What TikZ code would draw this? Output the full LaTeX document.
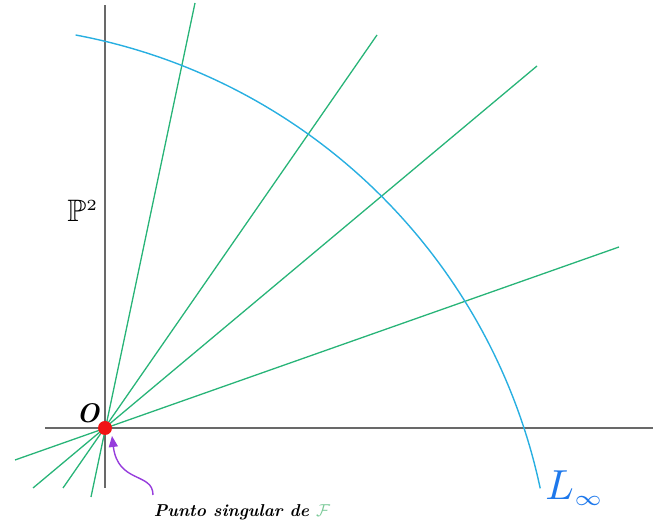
\documentclass[tikz,border=0pt]{standalone}
\usepackage{amssymb}
\usepackage{graphicx}
\usetikzlibrary{arrows.meta}
\definecolor{axisgray}{RGB}{105,105,105}
\definecolor{lgreen}{RGB}{40,180,120}
\definecolor{arccol}{RGB}{40,175,225}
\definecolor{lblue}{RGB}{30,120,235}
\definecolor{arrpurple}{RGB}{150,60,220}
\definecolor{dotred}{RGB}{240,20,20}
\definecolor{fgreen}{RGB}{120,200,150}
\tikzset{
  axisline/.style={draw=axisgray,line width=2.5pt},
  ray/.style={draw=lgreen,line width=1.3pt},
  infline/.style={draw=arccol,line width=1.4pt},
}
\begin{document}
\begin{tikzpicture}[x=1pt,y=1pt]
\useasboundingbox (0,0) rectangle (653,526);
% origin
\coordinate (O) at (105,98);
% axes
\coordinate (xl) at (45,98);
\coordinate (xr) at (653,98);
\coordinate (yb) at (105,38);
\coordinate (yt) at (105,521);
\draw[axisline] (xl) -- (xr);
\draw[axisline] (yb) -- (yt);
% rays through O
\coordinate (a1) at (195,523); \coordinate (b1) at (91,29);
\coordinate (a2) at (377,491); \coordinate (b2) at (63,38);
\coordinate (a3) at (537,460); \coordinate (b3) at (33,38);
\coordinate (a4) at (619,279); \coordinate (b4) at (15,66);
\draw[ray] (b1) -- (a1);
\draw[ray] (b2) -- (a2);
\draw[ray] (b3) -- (a3);
\draw[ray] (b4) -- (a4);
% line at infinity
\coordinate (C) at (-32,-84);
\draw[infline] (C) ++(79.4:585) arc (79.4:12:585);
% singular point
\node[circle,fill=dotred,inner sep=0pt,minimum size=14pt] (dot) at (O) {};
% labels
\node (Olab) at (88,113) {\scalebox{2.7}{\bfseries\itshape O}};
\node (P2) at (83,315) {\scalebox{3.1}{$\mathbb{P}^{\scriptscriptstyle 2}$}};
\node[text=lblue] (Linf) at (575,38) {\scalebox{4.2}{$L_{\scriptscriptstyle\infty}$}};
\node (ps) at (242,14) {\scalebox{1.72}{\bfseries\itshape Punto singular de \textcolor{fgreen}{$\mathcal{F}$}}};
% arrow
\coordinate (as) at (153,31);
\coordinate (ae) at (112,90);
\draw[draw=arrpurple,line width=1.4pt,-{Triangle[length=11pt,width=9pt]}] (as) .. controls (153,54) and (118,42) .. (ae);
\end{tikzpicture}
\end{document}
